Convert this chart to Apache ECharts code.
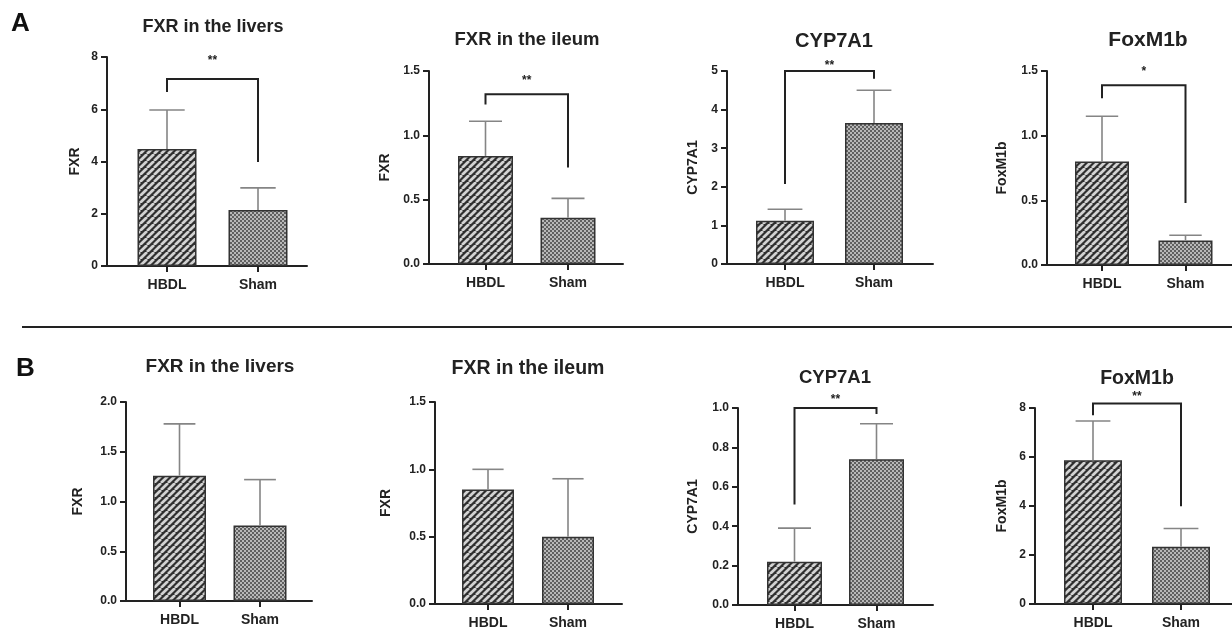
<!DOCTYPE html>
<html><head><meta charset="utf-8">
<script src="https://cdn.jsdelivr.net/npm/echarts@6/dist/echarts.min.js"></script>
<style>html,body{margin:0;padding:0;background:#fff}#c{width:1232px;height:631px}</style>
</head><body><div id="c"></div>
<script>
// ---------- data ----------
const categories = ['HBDL', 'Sham'];
const panelTitles = ['FXR in the livers', 'FXR in the ileum', 'CYP7A1', 'FoxM1b',
                     'FXR in the livers', 'FXR in the ileum', 'CYP7A1', 'FoxM1b'];
const yAxisNames = ['FXR', 'FXR', 'CYP7A1', 'FoxM1b', 'FXR', 'FXR', 'CYP7A1', 'FoxM1b'];
const yMax      = [8, 1.5, 5, 1.5, 2, 1.5, 1, 8];
const yStep     = [2, 0.5, 1, 0.5, 0.5, 0.5, 0.2, 2];
const yDecimals = [0, 1, 0, 1, 1, 1, 1, 0];
const hbdlMean  = [4.48, 0.84, 1.12, 0.80, 1.26, 0.85, 0.22, 5.87];
const hbdlSD    = [1.49, 0.27, 0.30, 0.35, 0.52, 0.15, 0.17, 1.60];
const shamMean  = [2.14, 0.36, 3.65, 0.19, 0.76, 0.50, 0.74, 2.34];
const shamSD    = [0.85, 0.15, 0.85, 0.04, 0.46, 0.43, 0.18, 0.74];
const sigMark         = ['**', '**', '**', '*', '', '', '**', '**'];
const bracketTop      = [7.16, 1.32, 5.0, 1.39, null, null, 1.0, 8.18];
const bracketLeftEnd  = [6.66, 1.24, 2.07, 1.29, null, null, 0.51, 7.7];
const bracketRightEnd = [3.98, 0.75, 4.8, 0.48, null, null, 0.97, 3.99];
const rowLabels = ['A', 'B'];

// ---------- layout (pixels) ----------
const layout = [
  {ax:107,  top:57,  bottom:266, right:307,  c1:167,   c2:258,   bw:59, tx:213,  ty:27,  tf:18,   gap:25, star:21},
  {ax:429,  top:71,  bottom:264, right:623,  c1:485.5, c2:568,   bw:55, tx:527,  ty:40,  tf:18.5, gap:37, star:16},
  {ax:727,  top:71,  bottom:264, right:933,  c1:785,   c2:874,   bw:58, tx:834,  ty:41,  tf:20,   gap:27, star:8},
  {ax:1047, top:71,  bottom:265, right:1232, c1:1102,  c2:1185.5,bw:54, tx:1148, ty:40,  tf:21,   gap:38, star:17},
  {ax:126,  top:402, bottom:601, right:312,  c1:179.5, c2:260,   bw:53, tx:220,  ty:367, tf:19,   gap:41, star:0},
  {ax:435,  top:402, bottom:604, right:622,  c1:488,   c2:568,   bw:52, tx:528,  ty:368, tf:19.5, gap:42, star:0},
  {ax:738,  top:408, bottom:606, right:933,  c1:794.5, c2:876.5, bw:55, tx:835,  ty:378, tf:18.5, gap:38, star:11},
  {ax:1035, top:408, bottom:604, right:1232, c1:1093,  c2:1181,  bw:58, tx:1137, ty:378, tf:19.5, gap:26, star:10}
];

const FONT = '"Liberation Sans", Arial, Helvetica, sans-serif';
const INK = '#222';

// ---------- fill patterns ----------
function stripePattern() {
  const s = 7, c = document.createElement('canvas');
  c.width = s; c.height = s;
  const g = c.getContext('2d');
  g.fillStyle = '#2f2f2f'; g.fillRect(0, 0, s, s);
  g.strokeStyle = '#d2d2d2'; g.lineWidth = 2.7;
  for (const o of [-s, 0, s]) {
    g.beginPath(); g.moveTo(o, s); g.lineTo(o + s, 0); g.stroke();
  }
  return c;
}
function checkerPattern() {
  const c = document.createElement('canvas');
  c.width = 4; c.height = 4;
  const g = c.getContext('2d');
  g.fillStyle = '#b8b8b8'; g.fillRect(0, 0, 4, 4);
  g.fillStyle = '#606060'; g.fillRect(0, 0, 2, 2); g.fillRect(2, 2, 2, 2);
  return c;
}
const stripeFill = {image: stripePattern(), repeat: 'repeat'};
const checkFill = {image: checkerPattern(), repeat: 'repeat'};

// ---------- build option ----------
const grids = [], xAxes = [], yAxes = [], series = [], titles = [];
layout.forEach((L, i) => {
  const unit = L.c2 - L.c1;
  grids.push({left: L.ax, top: L.top, width: L.right - L.ax, height: L.bottom - L.top, containLabel: false});
  xAxes.push({
    gridIndex: i, type: 'value',
    min: 1 - (L.c1 - L.ax) / unit, max: 2 + (L.right - L.c2) / unit,
    axisLine: {show: true, onZero: false, lineStyle: {color: INK, width: 2}},
    axisTick: {show: true, customValues: [1, 2], length: 6, lineStyle: {color: INK, width: 2}},
    axisLabel: {show: true, customValues: [1, 2], margin: 12,
      formatter: v => categories[Math.round(v) - 1] || '',
      color: INK, fontFamily: FONT, fontWeight: 'bold', fontSize: 14},
    splitLine: {show: false}
  });
  yAxes.push({
    gridIndex: i, type: 'value', min: 0, max: yMax[i], interval: yStep[i],
    name: yAxisNames[i], nameLocation: 'middle', nameRotate: 90, nameGap: L.gap,
    nameTextStyle: {color: INK, fontFamily: FONT, fontWeight: 'bold', fontSize: 14},
    axisLine: {show: true, lineStyle: {color: INK, width: 2}},
    axisTick: {show: true, length: 6, lineStyle: {color: INK, width: 2}},
    axisLabel: {margin: 9, formatter: v => (+v).toFixed(yDecimals[i]),
      color: INK, fontFamily: FONT, fontWeight: 'bold', fontSize: 12},
    splitLine: {show: false}
  });
  titles.push({
    text: panelTitles[i], left: L.tx, top: L.ty - L.tf / 2, textAlign: 'center', padding: 0,
    textStyle: {color: INK, fontFamily: FONT, fontWeight: 'bold', fontSize: L.tf}
  });
  series.push({
    type: 'bar', xAxisIndex: i, yAxisIndex: i, barWidth: L.bw, silent: true,
    data: [
      {value: [1, hbdlMean[i]], itemStyle: {color: stripeFill}},
      {value: [2, shamMean[i]], itemStyle: {color: checkFill}}
    ],
    itemStyle: {borderColor: '#333', borderWidth: 1.5}
  });
  const capHalf = L.bw * 0.3;
  series.push({
    type: 'custom', xAxisIndex: i, yAxisIndex: i, silent: true, z: 3,
    data: [[1, hbdlMean[i], hbdlSD[i]], [2, shamMean[i], shamSD[i]]],
    encode: {x: 0, y: 1},
    renderItem: (params, api) => {
      const x = api.value(0), m = api.value(1), sd = api.value(2);
      const p0 = api.coord([x, m]), p1 = api.coord([x, m + sd]);
      const st = {stroke: '#858585', lineWidth: 1.6};
      return {type: 'group', children: [
        {type: 'line', shape: {x1: p0[0], y1: p0[1], x2: p1[0], y2: p1[1]}, style: st},
        {type: 'line', shape: {x1: p1[0] - capHalf, y1: p1[1], x2: p1[0] + capHalf, y2: p1[1]}, style: st}
      ]};
    }
  });
  if (bracketTop[i] != null) {
    series.push({
      type: 'custom', xAxisIndex: i, yAxisIndex: i, silent: true, z: 4, clip: false,
      data: [[1, 2, bracketTop[i], bracketLeftEnd[i], bracketRightEnd[i]]],
      encode: {x: [0, 1], y: [3, 4]},
      renderItem: (params, api) => {
        const a = api.coord([api.value(0), api.value(3)]);
        const b = api.coord([api.value(0), api.value(2)]);
        const c = api.coord([api.value(1), api.value(2)]);
        const d = api.coord([api.value(1), api.value(4)]);
        return {type: 'group', children: [
          {type: 'polyline', shape: {points: [a, b, c, d]},
           style: {stroke: INK, lineWidth: 2, fill: null}},
          {type: 'text', x: (b[0] + c[0]) / 2, y: b[1] - L.star + 3,
           style: {text: sigMark[i], align: 'center', verticalAlign: 'middle',
                   font: 'bold 12px ' + FONT, fill: INK}}
        ]};
      }
    });
  }
});

const option = {
  backgroundColor: '#fff',
  animation: false,
  title: titles,
  grid: grids, xAxis: xAxes, yAxis: yAxes, series: series,
  graphic: [
    {type: 'text', left: 11, top: 11, style: {text: rowLabels[0], font: 'bold 26px ' + FONT, fill: '#111'}},
    {type: 'text', left: 16, top: 356, style: {text: rowLabels[1], font: 'bold 26px ' + FONT, fill: '#111'}},
    {type: 'line', shape: {x1: 22, y1: 327, x2: 1232, y2: 327}, style: {stroke: INK, lineWidth: 2}}
  ]
};
const chart = echarts.init(document.getElementById('c'), null, {renderer: 'canvas'});
chart.setOption(option);
</script>
</body></html>
